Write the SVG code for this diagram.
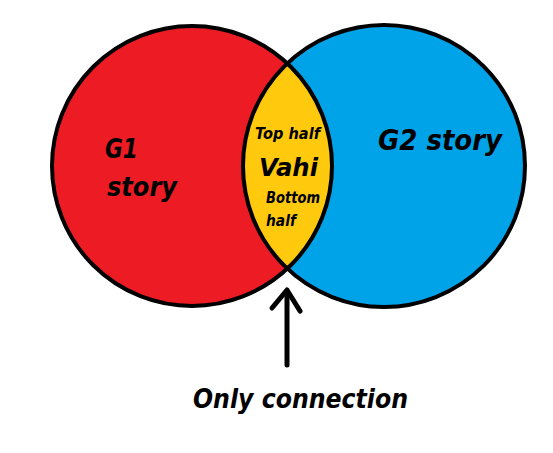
<svg xmlns="http://www.w3.org/2000/svg" width="553" height="453" viewBox="0 0 553 453">
  <style>
    .outline { fill: none; stroke: #000; stroke-width: 4; }
    .lbl { font-family: "DejaVu Sans", "Liberation Sans", sans-serif; font-weight: bold; font-style: italic; fill: #000; }
    .conn { fill: none; stroke: #000; stroke-width: 5; stroke-linecap: round; stroke-linejoin: round; }
  </style>
  <rect x="0" y="0" width="553" height="453" fill="#fff"/>
  <g id="g1">
    <circle cx="192" cy="166" r="140" fill="#ED1C24"/>
  </g>
  <g id="g2">
    <circle cx="384" cy="166" r="141" fill="#00A2E8"/>
  </g>
  <g id="vahi">
    <path d="M 287.3 63.4 A 140 140 0 0 1 287.3 268.6 A 141 141 0 0 1 287.3 63.4 Z" fill="#FFC90E"/>
  </g>
  <g id="outlines">
    <circle class="outline" cx="192" cy="166" r="140"/>
    <circle class="outline" cx="384" cy="166" r="141"/>
  </g>
  <g id="g1-label">
    <text class="lbl" x="105" y="158" font-size="26" textLength="33" lengthAdjust="spacingAndGlyphs">G1</text>
    <text class="lbl" x="107" y="196" font-size="27" textLength="70" lengthAdjust="spacingAndGlyphs">story</text>
  </g>
  <g id="g2-label">
    <text class="lbl" x="378" y="150" font-size="28" textLength="124" lengthAdjust="spacingAndGlyphs">G2 story</text>
  </g>
  <g id="vahi-label">
    <text class="lbl" x="255" y="139" font-size="15.5" textLength="65" lengthAdjust="spacingAndGlyphs">Top half</text>
    <text class="lbl" x="259" y="176" font-size="25" textLength="59" lengthAdjust="spacingAndGlyphs">Vahi</text>
    <text class="lbl" x="266" y="203" font-size="15.5" textLength="54" lengthAdjust="spacingAndGlyphs">Bottom</text>
    <text class="lbl" x="266" y="226" font-size="15.5" textLength="30" lengthAdjust="spacingAndGlyphs">half</text>
  </g>
  <g id="connectors">
    <path class="conn" d="M 287 365 L 287 291"/>
    <path class="conn" d="M 272 308 L 287 290 L 300 311"/>
  </g>
  <g id="connection-label">
    <text class="lbl" x="193" y="408" font-size="26" textLength="215" lengthAdjust="spacingAndGlyphs">Only connection</text>
  </g>
</svg>
